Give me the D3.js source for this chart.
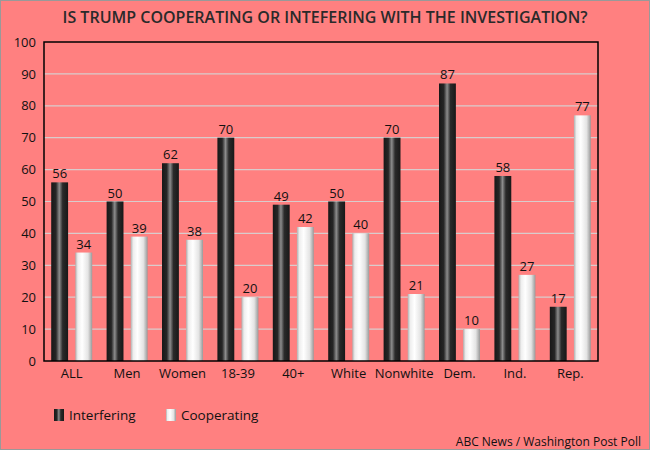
<!DOCTYPE html>
<html>
<head>
<meta charset="utf-8">
<script src="https://cdn.jsdelivr.net/npm/d3@7"></script>
<style>
  body { margin: 0; background: #ff8080; }
  svg { display: block; font-family: "Open Sans", sans-serif; }
</style>
</head>
<body>
<div id="chart"></div>
<script>
const width = 650, height = 450;

const categories = ["ALL", "Men", "Women", "18-39", "40+", "White", "Nonwhite", "Dem.", "Ind.", "Rep."];
const series = ["Interfering", "Cooperating"];
const interfering = [56, 50, 62, 70, 49, 50, 70, 87, 58, 17];
const cooperating = [34, 39, 38, 20, 42, 40, 21, 10, 27, 77];
const yTicks = [0, 10, 20, 30, 40, 50, 60, 70, 80, 90, 100];

const margin = {top: 42, right: 52, bottom: 89, left: 44};

const svg = d3.select("#chart").append("svg")
  .attr("width", width)
  .attr("height", height);

// gradients for the cylinder look
const defs = svg.append("defs");
const darkGrad = defs.append("linearGradient").attr("id", "gradDark");
[[0, "#181818"], [0.28, "#262626"], [0.48, "#8c8c8c"], [0.68, "#2a2a2a"], [1, "#181818"]]
  .forEach(([o, c]) => darkGrad.append("stop").attr("offset", o).attr("stop-color", c));
const lightGrad = defs.append("linearGradient").attr("id", "gradLight");
[[0, "#b0b0b0"], [0.15, "#eeeeee"], [0.4, "#ffffff"], [0.75, "#e4e4e4"], [1, "#999999"]]
  .forEach(([o, c]) => lightGrad.append("stop").attr("offset", o).attr("stop-color", c));
const fills = {Interfering: "url(#gradDark)", Cooperating: "url(#gradLight)"};

svg.append("rect")
  .attr("x", 0.5).attr("y", 0.5)
  .attr("width", width - 1).attr("height", height - 1)
  .attr("fill", "#ff8080")
  .attr("stroke", "#999");

svg.append("text")
  .attr("x", width / 2).attr("y", 23)
  .attr("text-anchor", "middle")
  .attr("font-size", 16)
  .attr("font-weight", 600)
  .attr("fill", "#2a2a2a")
  .text("IS TRUMP COOPERATING OR INTEFERING WITH THE INVESTIGATION?");

const x0 = d3.scaleBand()
  .domain(categories)
  .range([margin.left, width - margin.right])
  .paddingInner(0.26)
  .paddingOuter(0.13);

const x1 = d3.scaleBand()
  .domain(series)
  .range([0, x0.bandwidth()])
  .paddingInner(0.3);

const y = d3.scaleLinear()
  .domain([0, 100])
  .range([height - margin.bottom, margin.top]);

// gridlines
svg.append("g")
  .selectAll("line")
  .data(yTicks.filter(d => d > 0 && d < 100))
  .join("line")
  .attr("x1", margin.left).attr("x2", width - margin.right)
  .attr("y1", d => y(d)).attr("y2", d => y(d))
  .attr("stroke", "#d9cccc")
  .attr("stroke-width", 1.2);

// y axis labels
const yAxis = svg.append("g")
  .attr("transform", `translate(${margin.left},0)`)
  .call(d3.axisLeft(y).tickValues(yTicks).tickSize(0).tickPadding(8));
yAxis.select(".domain").remove();
yAxis.selectAll("text").attr("font-size", 13).attr("fill", "#111").attr("font-family", "Open Sans");

// x axis labels
const xAxis = svg.append("g")
  .attr("transform", `translate(0,${height - margin.bottom})`)
  .call(d3.axisBottom(x0).tickSize(0).tickPadding(8));
xAxis.select(".domain").remove();
xAxis.selectAll("text").attr("font-size", 13).attr("fill", "#111").attr("font-family", "Open Sans");

const rows = categories.map((c, i) => ({cat: c, values: [
  {key: "Interfering", value: interfering[i]},
  {key: "Cooperating", value: cooperating[i]}
]}));

const groups = svg.append("g")
  .selectAll("g")
  .data(rows)
  .join("g")
  .attr("transform", d => `translate(${x0(d.cat)},0)`);

groups.selectAll("rect")
  .data(d => d.values)
  .join("rect")
  .attr("x", d => x1(d.key))
  .attr("y", d => y(d.value))
  .attr("width", x1.bandwidth())
  .attr("height", d => y(0) - y(d.value))
  .attr("fill", d => fills[d.key]);

groups.selectAll("text")
  .data(d => d.values)
  .join("text")
  .attr("x", d => x1(d.key) + x1.bandwidth() / 2)
  .attr("y", d => y(d.value) - 4)
  .attr("text-anchor", "middle")
  .attr("font-size", 13)
  .attr("fill", "#111")
  .text(d => d.value);

// plot frame
svg.append("rect")
  .attr("x", margin.left).attr("y", margin.top)
  .attr("width", width - margin.left - margin.right)
  .attr("height", height - margin.top - margin.bottom)
  .attr("fill", "none")
  .attr("stroke", "#000")
  .attr("stroke-width", 1.5);

// legend
const legend = svg.append("g")
  .selectAll("g")
  .data(series)
  .join("g")
  .attr("transform", (d, i) => `translate(${54 + i * 112},409)`);
legend.append("rect")
  .attr("width", 10).attr("height", 12)
  .attr("fill", d => fills[d]);
legend.append("text")
  .attr("x", 15).attr("y", 11)
  .attr("font-size", 13.5)
  .attr("fill", "#111")
  .text(d => d);

svg.append("text")
  .attr("x", 641).attr("y", 446)
  .attr("text-anchor", "end")
  .attr("font-size", 12)
  .attr("fill", "#111")
  .text("ABC News / Washington Post Poll");
</script>
</body>
</html>
